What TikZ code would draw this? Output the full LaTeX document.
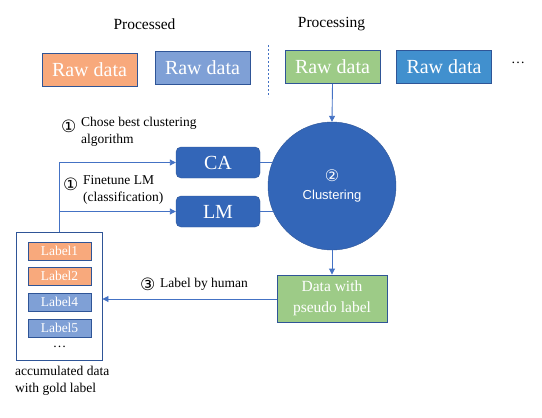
\documentclass[tikz,border=0pt]{standalone}
\usepackage{fontspec}
\setmainfont{Liberation Serif}
\newfontfamily\sansf{Liberation Sans}
\newfontfamily\symf{DejaVu Sans}
\usetikzlibrary{arrows.meta}
\definecolor{corange}{HTML}{F8A97C}
\definecolor{cgrey}{HTML}{7FA0D6}
\definecolor{cgreen}{HTML}{9DCB87}
\definecolor{cblue}{HTML}{4190CE}
\definecolor{cdark}{HTML}{3366B8}
\definecolor{cborder}{HTML}{2F5597}
\definecolor{cline}{HTML}{4472C4}
\tikzset{
  raw/.style={draw=cborder, line width=0.9pt, minimum width=95pt, minimum height=33pt, inner sep=0pt, text=white, font=\fontsize{20}{22}\selectfont},
  lab/.style={draw=cborder, line width=0.9pt, minimum width=63pt, minimum height=18pt, inner sep=0pt, text=white, font=\fontsize{13.5}{15}\selectfont},
  model/.style={draw=cborder, fill=cdark, rounded corners=5pt, minimum width=84pt, minimum height=31pt, inner sep=0pt, text=white, font=\fontsize{20}{22}\selectfont},
  txt/.style={inner sep=0pt, font=\fontsize{13.5}{17}\selectfont, align=left},
  hdr/.style={inner sep=0pt, font=\fontsize{15.5}{18}\selectfont},
  num/.style={inner sep=0pt, font=\symf\fontsize{17}{18}\selectfont},
  conn/.style={draw=cline, line width=0.9pt},
  arr/.style={conn, -{Triangle[length=6pt,width=6pt]}},
}
\begin{document}
\begin{tikzpicture}[x=1pt,y=-1pt]
\useasboundingbox (0,0) rectangle (542,418);
% headers
\node[hdr] (hproc) at (144.5,24) {Processed};
\node[hdr] (hprocing) at (331.5,24) {Processing};
% top boxes
\node[raw, fill=corange] (r1) at (89.5,69.5) {Raw data};
\node[raw, fill=cgrey] (r2) at (202.5,68) {Raw data};
\node[raw, fill=cgreen] (r3) at (332.5,67) {Raw data};
\node[raw, fill=cblue] (r4) at (444,67) {Raw data};
\node[inner sep=0pt, font=\fontsize{14}{16}\selectfont] (dots) at (518,63) {\dots};
\coordinate (dtop) at (268.5,45);
\coordinate (dbot) at (268.5,97);
\draw[cline, line width=0.8pt, dash pattern=on 2pt off 2pt] (dtop) -- (dbot);
% circle
\node[circle, fill=cdark, draw=cborder, minimum size=128pt, inner sep=0pt, text=white, align=center, font=\sansf\fontsize{13}{18}\selectfont] (circ) at (332,186) {{\symf\fontsize{16}{18}\selectfont ②}\\Clustering};
% models
\node[model] (CA) at (218,162.5) {CA};
\node[model] (LM) at (218,211.5) {LM};
% pseudo label box
\node[draw=cborder, line width=0.9pt, fill=cgreen, minimum width=110pt, minimum height=47pt, inner sep=0pt, text=white, align=center, font=\fontsize{15.5}{21}\selectfont] (pl) at (332,298.5) {Data with\\pseudo label};
% left box
\node[draw=cborder, line width=0.9pt, fill=white, minimum width=86pt, minimum height=128pt, inner sep=0pt] (lbox) at (59,296) {};
\node[lab, fill=corange] (l1) at (59.5,251) {Label1};
\node[lab, fill=corange] (l2) at (59.5,276) {Label2};
\node[lab, fill=cgrey] (l4) at (59.5,302) {Label4};
\node[lab, fill=cgrey] (l5) at (59.5,328) {Label5};
\node[inner sep=0pt, font=\fontsize{13.5}{15}\selectfont] (ldots) at (59.5,347) {\dots};
\node[txt, anchor=north west] (cap) at (15,366) {accumulated data\\with gold label};
% step labels
\node[num, anchor=west] (n1a) at (61,126) {①};
\node[txt, anchor=north west] (t1a) at (81,117) {Chose best clustering\\algorithm};
\node[num, anchor=west] (n1b) at (63,184) {①};
\node[txt, anchor=north west] (t1b) at (83,175) {Finetune LM\\(classification)};
\node[num, anchor=west] (n3) at (140,284) {③};
\node[txt, anchor=west] (t3) at (160,284) {Label by human};
% connectors
\draw[arr] (r3.south) -- (circ.north);
\draw[arr] (circ.south) -- (pl.north);
\draw[conn] (CA.east) -- (CA.east -| circ.158.5);
\draw[conn] (LM.east) -- (LM.east -| circ.203.5);
\draw[arr] (lbox.north) |- (CA.west);
\draw[arr] (lbox.north |- LM.west) -- (LM.west);
\draw[arr] (pl.west |- 0,299) -- (lbox.east |- 0,299);
\end{tikzpicture}
\end{document}
